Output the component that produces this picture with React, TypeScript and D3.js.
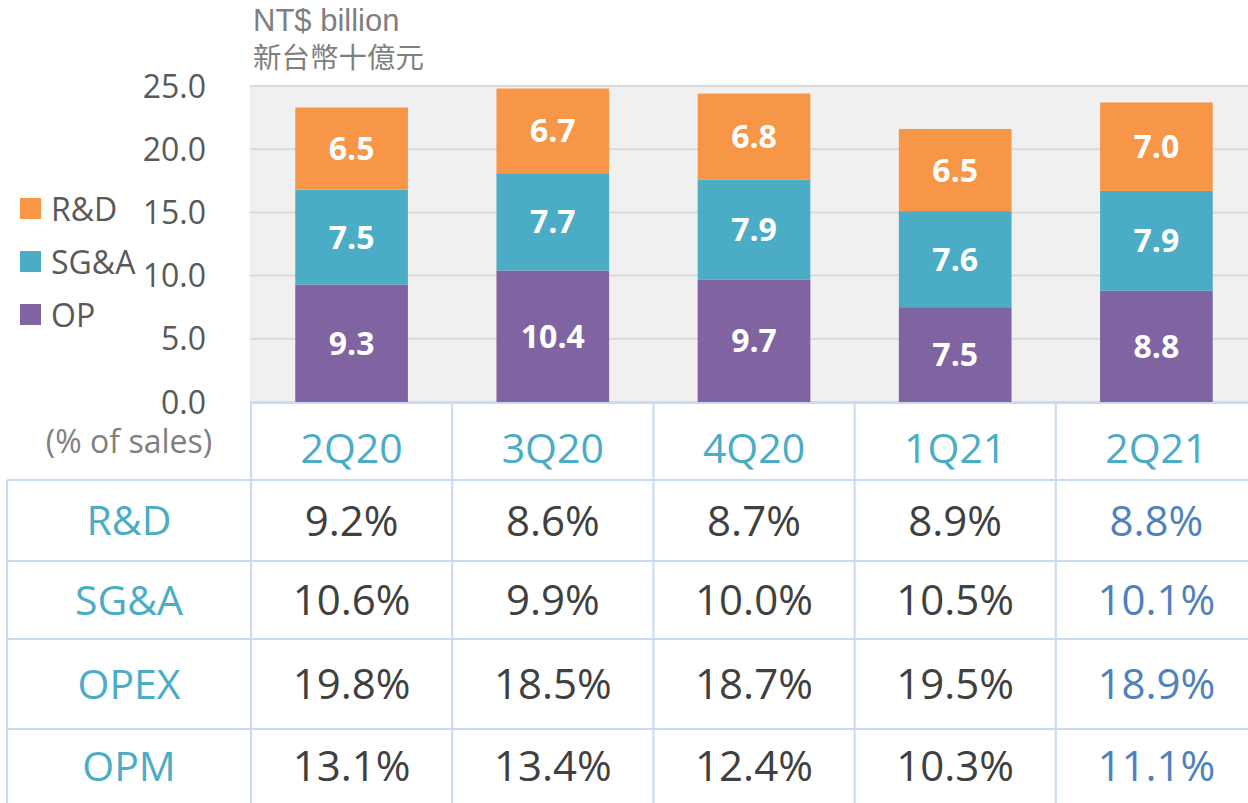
import React from 'react';
import { scaleBand, scaleLinear, stack } from 'd3';

const quarters = ['2Q20', '3Q20', '4Q20', '1Q21', '2Q21'];
const opValues = [9.3, 10.4, 9.7, 7.5, 8.8];
const sgaValues = [7.5, 7.7, 7.9, 7.6, 7.9];
const rndValues = [6.5, 6.7, 6.8, 6.5, 7.0];
const yTicks = [0, 5, 10, 15, 20, 25];

const rowLabels = ['R&D', 'SG&A', 'OPEX', 'OPM'];
const rndPct = ['9.2%', '8.6%', '8.7%', '8.9%', '8.8%'];
const sgaPct = ['10.6%', '9.9%', '10.0%', '10.5%', '10.1%'];
const opexPct = ['19.8%', '18.5%', '18.7%', '19.5%', '18.9%'];
const opmPct = ['13.1%', '13.4%', '12.4%', '10.3%', '11.1%'];

const seriesKeys = ['op', 'sga', 'rnd'];
const colors: Record<string, string> = { op: '#8064a2', sga: '#4bacc6', rnd: '#f79646' };
const legendItems = [
  { key: 'rnd', label: 'R&D' },
  { key: 'sga', label: 'SG&A' },
  { key: 'op', label: 'OP' },
];

const W = 1248;
const H = 803;
const FONT = '"Open Sans", "Noto Sans", sans-serif';

export default function App() {
  const rows = quarters.map((q, i) => ({
    q,
    op: opValues[i],
    sga: sgaValues[i],
    rnd: rndValues[i],
  }));
  const stacked = stack<any>().keys(seriesKeys)(rows);

  // plot area
  const x = scaleBand().domain(quarters).range([251, 1257]).paddingInner(0.44).paddingOuter(0.22);
  const y = scaleLinear().domain([0, 25]).range([402, 86]);
  const step = x.step();
  const colLeft = (i: number) => 251 + i * step;

  const pctRows = [rndPct, sgaPct, opexPct, opmPct];
  // table row borders
  const rowEdges = [403, 480, 561, 639, 729, 803];
  const lineColor = '#c9daf2';

  return (
    <svg
      width={W}
      height={H}
      style={{ position: 'absolute', left: 0, top: 0, background: '#fff' }}
    >
      {/* unit title */}
      <text x={253} y={31} fill="#7f7f7f" fontSize={31} fontFamily='"Liberation Sans", Arial, sans-serif'>
        NT$ billion
      </text>
      <text x={253} y={68} fill="#7f7f7f" fontSize={28.5} fontFamily='"Noto Sans CJK TC", sans-serif'>
        新台幣十億元
      </text>

      {/* plot background + grid */}
      <rect x={250} y={y(25)} width={W - 250} height={y(0) - y(25)} fill="#f0f0f0" />
      {yTicks.map((t) => (
        <line key={t} x1={250} x2={W} y1={y(t)} y2={y(t)} stroke="#d9d9d9" strokeWidth={2} />
      ))}
      {yTicks.map((t) => (
        <text
          key={'l' + t}
          x={206}
          y={y(t)}
          dy="0.36em"
          textAnchor="end"
          fill="#595959"
          fontSize={32}
          fontFamily={FONT}
        >
          {t.toFixed(1)}
        </text>
      ))}

      {/* bars */}
      {stacked.map((s) => (
        <g key={s.key}>
          {s.map((d, i) => (
            <g key={i}>
              <rect
                x={x(quarters[i])}
                y={y(d[1])}
                width={x.bandwidth()}
                height={y(d[0]) - y(d[1])}
                fill={colors[s.key]}
              />
              <text
                x={(x(quarters[i]) as number) + x.bandwidth() / 2}
                y={(y(d[0]) + y(d[1])) / 2}
                dy="0.36em"
                textAnchor="middle"
                fill="#fff"
                fontWeight="bold"
                fontSize={32}
                fontFamily={FONT}
              >
                {(d[1] - d[0]).toFixed(1)}
              </text>
            </g>
          ))}
        </g>
      ))}

      {/* legend */}
      {legendItems.map((l, i) => (
        <g key={l.key} transform={`translate(20, ${198 + i * 53})`}>
          <rect width={21} height={21} fill={colors[l.key]} />
          <text x={31} y={11} dy="0.36em" fill="#595959" fontSize={32} fontFamily={FONT}>
            {l.label}
          </text>
        </g>
      ))}

      {/* table */}
      <text x={129} y={441} dy="0.36em" textAnchor="middle" fill="#7f7f7f" fontSize={32} fontFamily={FONT}>
        (% of sales)
      </text>
      <line x1={251} x2={W} y1={403} y2={403} stroke={lineColor} strokeWidth={2} />
      {rowEdges.slice(1, 5).map((e) => (
        <line key={e} x1={7} x2={W} y1={e} y2={e} stroke={lineColor} strokeWidth={2} />
      ))}
      <line x1={7} x2={7} y1={480} y2={H} stroke={lineColor} strokeWidth={2} />
      {quarters.map((q, i) => (
        <line key={q} x1={colLeft(i)} x2={colLeft(i)} y1={403} y2={H} stroke={lineColor} strokeWidth={2} />
      ))}
      {quarters.map((q, i) => (
        <text
          key={'h' + q}
          x={colLeft(i) + step / 2}
          y={(rowEdges[0] + rowEdges[1]) / 2 + 7}
          dy="0.36em"
          textAnchor="middle"
          fill="#4bacc6"
          fontSize={41}
          fontFamily={FONT}
        >
          {q}
        </text>
      ))}
      {rowLabels.map((r, ri) => {
        const cy = (rowEdges[ri + 1] + rowEdges[ri + 2]) / 2;
        return (
          <g key={r}>
            <text x={129} y={cy} dy="0.36em" textAnchor="middle" fill="#4bacc6" fontSize={41} fontFamily={FONT}>
              {r}
            </text>
            {pctRows[ri].map((v, ci) => (
              <text
                key={ci}
                x={colLeft(ci) + step / 2}
                y={cy}
                dy="0.36em"
                textAnchor="middle"
                fill={ci === quarters.length - 1 ? '#4f81bd' : '#404040'}
                fontSize={42}
                fontFamily={FONT}
              >
                {v}
              </text>
            ))}
          </g>
        );
      })}
    </svg>
  );
}
